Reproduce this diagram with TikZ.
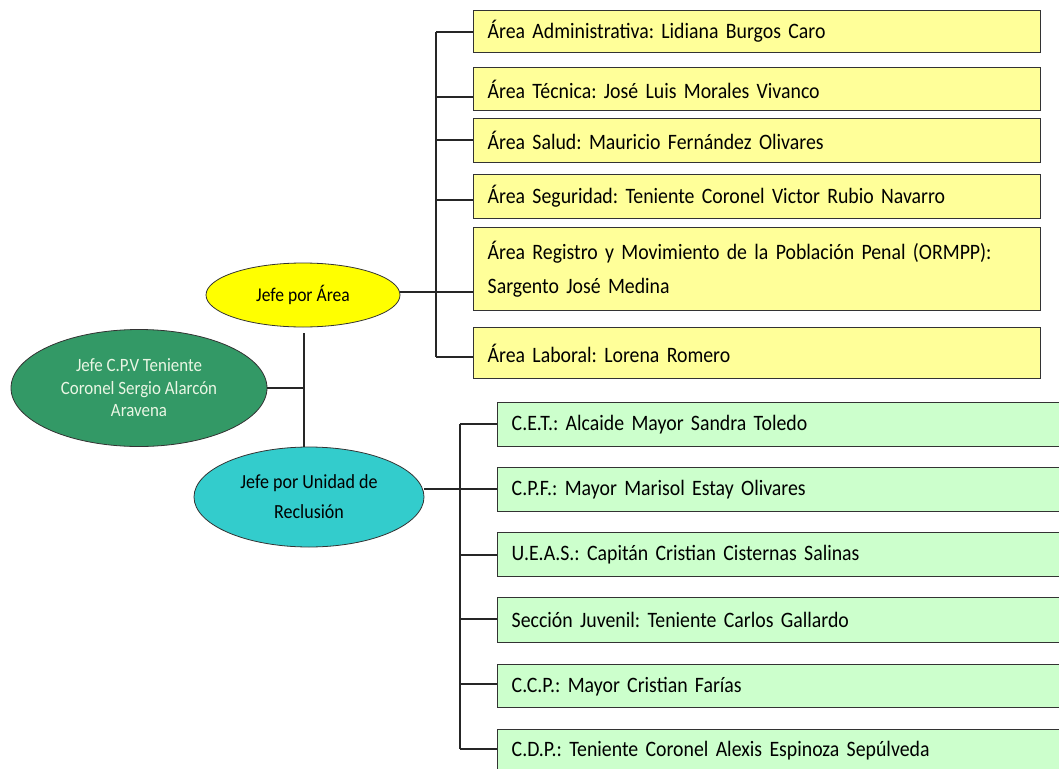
\documentclass[tikz,border=0pt]{standalone}
\usepackage{fontspec}
\setmainfont[FakeStretch=0.9]{Carlito}
\usetikzlibrary{shapes.geometric}
\frenchspacing
\definecolor{ybox}{HTML}{FFFF99}
\definecolor{gbox}{HTML}{CCFFCC}
\definecolor{yell}{HTML}{FFFF00}
\definecolor{gell}{HTML}{339966}
\definecolor{cell}{HTML}{33CCCC}
\definecolor{edge}{HTML}{333333}
\definecolor{paletext}{HTML}{EAF6E4}
\tikzset{
  boxbase/.style={draw=edge, line width=1.4pt, rectangle, anchor=north west, inner xsep=14pt, align=left,
    font=\fontsize{22}{34}\selectfont, text=black},
  yellowbox/.style={boxbase, fill=ybox, minimum width=567pt, text width=539pt},
  greenbox/.style={boxbase, fill=gbox, minimum width=600pt, text width=572pt},
  ell/.style={ellipse, draw=edge, line width=0.8pt, inner sep=0pt, align=center},
  conn/.style={draw=black!85, line width=1.3pt},
}
\begin{document}
\begin{tikzpicture}[x=1pt,y=-1pt]
\useasboundingbox (0,0) rectangle (1059,768);
\clip (0,0) rectangle (1059,768);
% ellipses
\node[ell, fill=yell, minimum width=194pt, minimum height=64pt, font=\fontsize{19.5}{22}\selectfont] (ye) at (303,295) {Jefe por Área};
\node[ell, fill=gell, minimum width=256pt, minimum height=117pt, text=paletext, font=\fontsize{18.8}{22.5}\selectfont] (ge) at (139,388) {Jefe C.P.V Teniente\\Coronel Sergio Alarcón\\Aravena};
\node[ell, fill=cell, minimum width=230pt, minimum height=100pt, font=\fontsize{20}{30}\selectfont] (cy) at (309,497) {Jefe por Unidad de\\Reclusión};
% yellow boxes
\node[yellowbox, minimum height=42pt] (b1) at (473,10) {Área Administrativa: Lidiana Burgos Caro};
\node[yellowbox, minimum height=43pt] (b2) at (473,67) {Área Técnica: José Luis Morales Vivanco};
\node[yellowbox, minimum height=44pt] (b3) at (473,118) {Área Salud: Mauricio Fernández Olivares};
\node[yellowbox, minimum height=44pt] (b4) at (473,174) {Área Seguridad: Teniente Coronel Victor Rubio Navarro};
\node[yellowbox, minimum height=83pt] (b5) at (473,227) {Área Registro y Movimiento de la Población Penal (ORMPP):\\Sargento José Medina};
\node[yellowbox, minimum height=51pt] (b6) at (473,327) {Área Laboral: Lorena Romero};
% green boxes
\node[greenbox, minimum height=44pt] (g1) at (497,402) {C.E.T.: Alcaide Mayor Sandra Toledo};
\node[greenbox, minimum height=44pt] (g2) at (497,467) {C.P.F.: Mayor Marisol Estay Olivares};
\node[greenbox, minimum height=44pt] (g3) at (497,532) {U.E.A.S.: Capitán Cristian Cisternas Salinas};
\node[greenbox, minimum height=45pt] (g4) at (497,597) {Sección Juvenil: Teniente Carlos Gallardo};
\node[greenbox, minimum height=43pt] (g5) at (497,664) {C.C.P.: Mayor Cristian Farías};
\node[greenbox, minimum height=42pt] (g6) at (497,729) {C.D.P.: Teniente Coronel Alexis Espinoza Sepúlveda};
% yellow bar
\coordinate (ya) at (436,32);
\coordinate (yb) at (436,97);
\coordinate (yc) at (436,140);
\coordinate (yd) at (436,200);
\coordinate (yf) at (436,357);
\draw[conn] (ya) -- (yf);
\draw[conn] (ya) -- (ya -| b1.west);
\draw[conn] (yb) -- (yb -| b2.west);
\draw[conn] (yc) -- (yc -| b3.west);
\draw[conn] (yd) -- (yd -| b4.west);
\draw[conn] (yf) -- (yf -| b6.west);
\coordinate (ye1) at (ye.east |- 0,292);
\draw[conn] (ye1) -- (ye1 -| b5.west);
% green bar
\coordinate (ga) at (460,424);
\coordinate (gb) at (460,489);
\coordinate (gc) at (460,555);
\coordinate (gd) at (460,619);
\coordinate (gf) at (460,684);
\coordinate (gg) at (460,749);
\draw[conn] (ga) -- (gg);
\draw[conn] (ga) -- (ga -| g1.west);
\draw[conn] (gb) -- (gb -| g2.west);
\draw[conn] (gc) -- (gc -| g3.west);
\draw[conn] (gd) -- (gd -| g4.west);
\draw[conn] (gf) -- (gf -| g5.west);
\draw[conn] (gg) -- (gg -| g6.west);
\draw[conn] (cy.east |- gb) -- (gb -| g2.west);
% centre spine
\coordinate (vt) at (304,333);
\draw[conn] (vt) -- (vt |- cy.north);
\draw[conn] (ge.east) -- (ge.east -| vt);
\end{tikzpicture}
\end{document}
